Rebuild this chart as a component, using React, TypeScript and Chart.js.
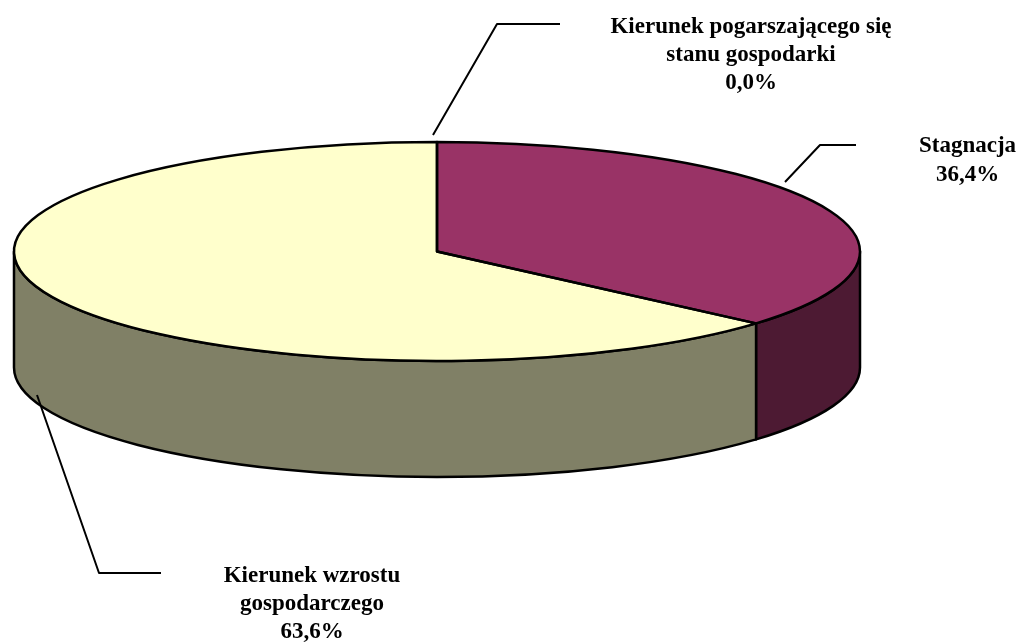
import React, { useEffect, useRef } from "react";
import { Chart, registerables } from "chart.js";

Chart.register(...registerables);

const categories = ["Kierunek pogarszającego się stanu gospodarki", "Stagnacja", "Kierunek wzrostu gospodarczego"];
const values = [0.0, 36.4, 63.6];
const topColors = ["#FF99CC", "#993366", "#FFFFCC"];
const sideColors = ["#804D66", "#4D1A33", "#808066"];
const labelLines = [
  ["Kierunek pogarszającego się", "stanu gospodarki"],
  ["Stagnacja"],
  ["Kierunek wzrostu", "gospodarczego"],
];
const percentLabels = values.map((v) => v.toFixed(1).replace(".", ",") + "%");

const W = 1023;
const H = 642;
const CX = 437;
const CY = 251.5;
const RX = 423;
const RY = 109.5;
const DEPTH = 116;
const SQUASH = RY / RX;
const labelPos = [
  { x: 751, y: 27, lh: 28 },
  { x: 967.5, y: 146, lh: 29 },
  { x: 312, y: 576, lh: 28 },
];
const leaders = [
  [[433, 135], [497, 24], [560, 24]],
  [[785, 182], [820, 145], [856, 145]],
  [[37, 395], [99, 573], [161, 573]],
];

const pie3d = {
  id: "pie3d",
  beforeDatasetsDraw(chart: any) {
    const ctx = chart.ctx;
    const arcs = chart.getDatasetMeta(0).data;
    const cx = arcs[0].x;
    const cy = arcs[0].y;
    ctx.save();
    ctx.lineWidth = 2.5;
    ctx.strokeStyle = "#000";
    ctx.lineJoin = "round";
    // side wall: only the front half (0..PI) of each slice is visible
    arcs.forEach((a: any, i: number) => {
      const from = Math.max(a.startAngle, 0);
      const to = Math.min(a.endAngle, Math.PI);
      if (to <= from) return;
      ctx.beginPath();
      ctx.ellipse(cx, cy, a.outerRadius, a.outerRadius * SQUASH, 0, from, to);
      ctx.ellipse(cx, cy + DEPTH, a.outerRadius, a.outerRadius * SQUASH, 0, to, from, true);
      ctx.closePath();
      ctx.fillStyle = sideColors[i];
      ctx.fill();
      ctx.stroke();
    });
    ctx.restore();
    // squash the library's own arcs into the top face
    ctx.save();
    ctx.translate(cx, cy);
    ctx.scale(1, SQUASH);
    ctx.translate(-cx, -cy);
  },
  afterDatasetsDraw(chart: any) {
    const ctx = chart.ctx;
    ctx.restore();
    const arcs = chart.getDatasetMeta(0).data;
    const cx = arcs[0].x;
    const cy = arcs[0].y;
    ctx.save();
    ctx.lineWidth = 2.5;
    ctx.strokeStyle = "#000";
    ctx.lineJoin = "round";
    arcs.forEach((a: any) => {
      if (a.endAngle - a.startAngle <= 0) return;
      ctx.beginPath();
      ctx.moveTo(cx, cy);
      ctx.ellipse(cx, cy, a.outerRadius, a.outerRadius * SQUASH, 0, a.startAngle, a.endAngle);
      ctx.closePath();
      ctx.stroke();
    });
    // leader lines
    ctx.lineWidth = 2;
    leaders.forEach((pts) => {
      ctx.beginPath();
      pts.forEach(([x, y], i) => (i ? ctx.lineTo(x, y) : ctx.moveTo(x, y)));
      ctx.stroke();
    });
    // labels
    ctx.fillStyle = "#000";
    ctx.font = 'bold 23px "Liberation Serif"';
    ctx.textAlign = "center";
    ctx.textBaseline = "middle";
    labelPos.forEach((p, i) => {
      [...labelLines[i], percentLabels[i]].forEach((t, j) => {
        ctx.fillText(t, p.x, p.y + j * p.lh);
      });
    });
    ctx.restore();
  },
};

export default function App() {
  const ref = useRef<HTMLCanvasElement>(null);
  useEffect(() => {
    document.body.style.margin = "0";
    const chart = new Chart(ref.current as HTMLCanvasElement, {
      type: "pie",
      data: {
        labels: categories,
        datasets: [
          {
            data: values,
            backgroundColor: topColors,
            borderWidth: 0,
            radius: RX,
          } as any,
        ],
      },
      options: {
        animation: false,
        responsive: false,
        layout: {
          padding: { left: 0, top: 0, right: W - 2 * CX, bottom: H - 2 * CY },
        },
        plugins: { legend: { display: false }, tooltip: { enabled: false }, title: { display: false } },
      },
      plugins: [pie3d],
    } as any);
    return () => chart.destroy();
  }, []);
  return <canvas ref={ref} width={W} height={H} style={{ display: "block", width: W, height: H }} />;
}
